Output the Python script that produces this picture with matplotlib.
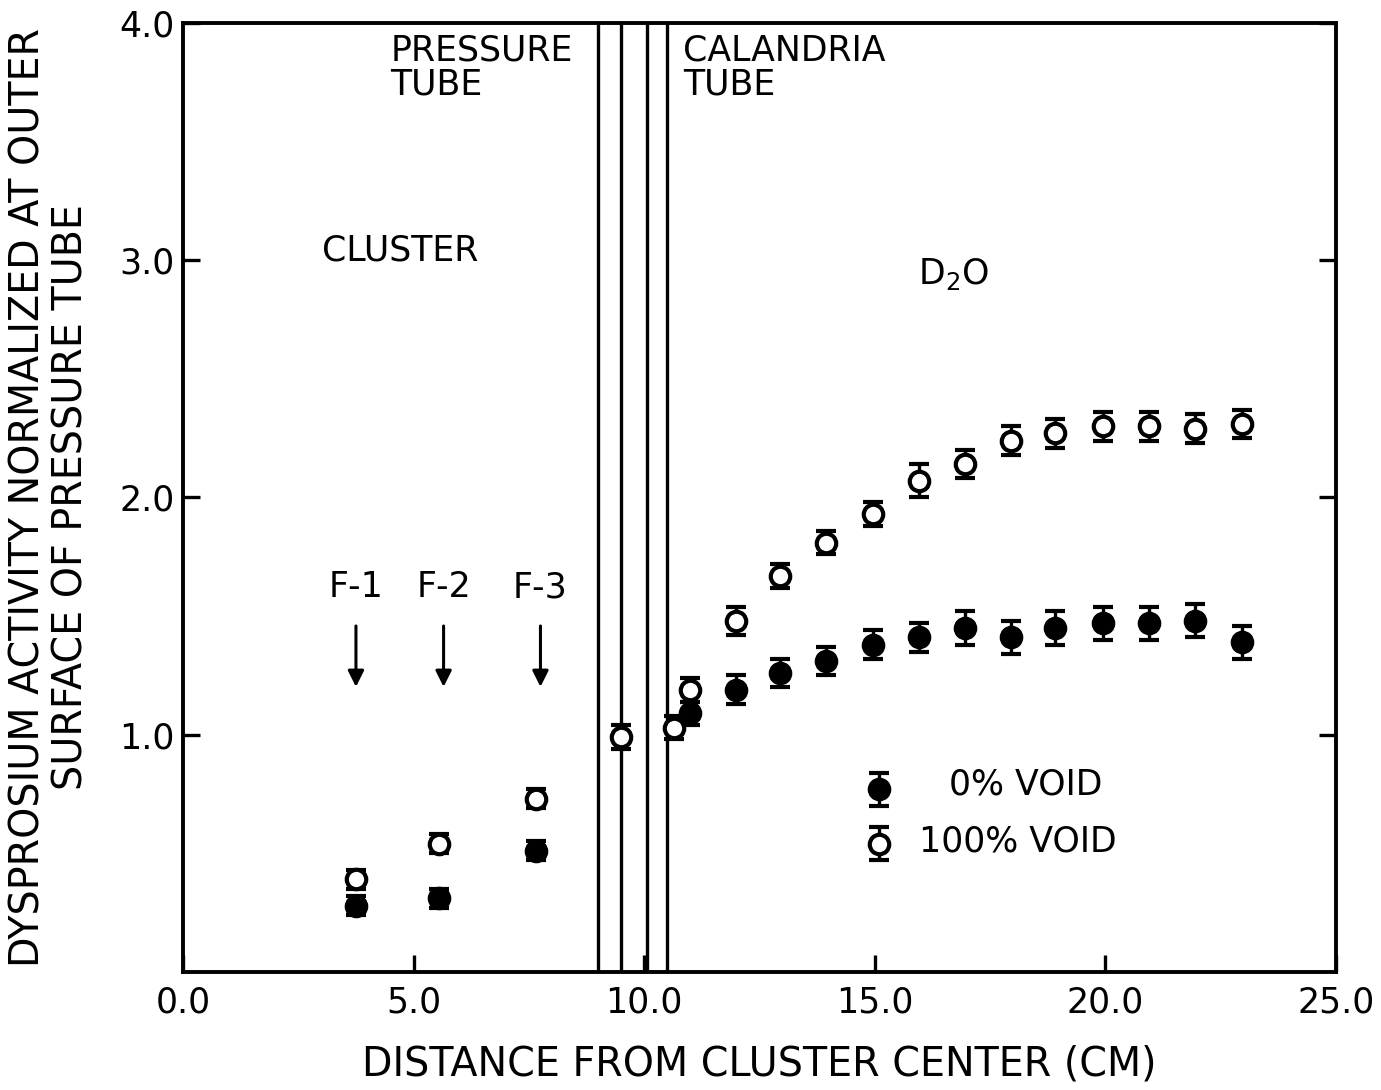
import matplotlib

matplotlib.use("Agg")
import matplotlib.pyplot as plt  # noqa: E402
import numpy as np  # noqa: E402

# 0% void (filled circles)
x_void0 = [3.75, 5.55, 7.65, 11.0, 12.0, 12.95, 13.95, 14.95, 15.95, 16.95, 17.95, 18.9, 19.95, 20.95, 21.95, 22.95]
y_void0 = [0.28, 0.31, 0.51, 1.09, 1.19, 1.26, 1.31, 1.38, 1.41, 1.45, 1.41, 1.45, 1.47, 1.47, 1.48, 1.39]
e_void0 = [0.04, 0.04, 0.04, 0.05, 0.06, 0.06, 0.06, 0.06, 0.06, 0.07, 0.07, 0.07, 0.07, 0.07, 0.07, 0.07]

# 100% void (open circles)
x_void100 = [3.75, 5.55, 7.65, 9.5, 10.65, 11.0, 12.0, 12.95, 13.95, 14.95, 15.95, 16.95, 17.95, 18.9, 19.95, 20.95, 21.95, 22.95]
y_void100 = [0.39, 0.54, 0.73, 0.99, 1.03, 1.19, 1.48, 1.67, 1.81, 1.93, 2.07, 2.14, 2.24, 2.27, 2.30, 2.30, 2.29, 2.31]
e_void100 = [0.04, 0.04, 0.04, 0.05, 0.05, 0.05, 0.06, 0.05, 0.05, 0.05, 0.07, 0.06, 0.06, 0.06, 0.06, 0.06, 0.06, 0.06]

# tube wall boundaries (cm)
walls = [9.0, 9.5, 10.05, 10.5]

# fuel ring arrows
fuel_labels = ["F-1", "F-2", "F-3"]
fuel_x = [3.75, 5.65, 7.75]

plt.rcParams["font.family"] = ["DejaVu Sans"]

fig = plt.figure(figsize=(13.81, 10.90), dpi=100)
ax = fig.add_axes([0.1325, 0.1083, 0.835, 0.8706])

for w in walls:
    ax.axvline(w, color="black", lw=2.4)

common = dict(fmt="o", color="black", ms=14, capsize=7, elinewidth=2.4,
              capthick=3, mew=3, zorder=3)
ax.errorbar(x_void0, y_void0, yerr=e_void0, mfc="black", **common)
ax.errorbar(x_void100, y_void100, yerr=e_void100, mfc="white", **common)

ax.set_xlim(0, 25)
ax.set_ylim(0, 4.0)
ax.set_xticks([0, 5, 10, 15, 20, 25])
ax.set_xticklabels(["0.0", "5.0", "10.0", "15.0", "20.0", "25.0"])
ax.set_yticks([1, 2, 3, 4])
ax.set_yticklabels(["1.0", "2.0", "3.0", "4.0"])
ax.tick_params(direction="in", length=12, width=2.4, labelsize=25, pad=10,
               right=True)
ax.tick_params(axis="y", pad=6)
for s in ax.spines.values():
    s.set_linewidth(2.8)

ax.set_xlabel("DISTANCE FROM CLUSTER CENTER (CM)", fontsize=28.5, labelpad=18)
ax.set_ylabel("DYSPROSIUM ACTIVITY NORMALIZED AT OUTER\nSURFACE OF PRESSURE TUBE",
              fontsize=28.5, labelpad=20, linespacing=1.1)

tkw = dict(fontsize=25, color="black")
ax.text(4.5, 3.955, "PRESSURE\nTUBE", ha="left", va="top", linespacing=1.0, **tkw)
ax.text(10.85, 3.955, "CALANDRIA\nTUBE", ha="left", va="top", linespacing=1.0, **tkw)
ax.text(4.7, 3.04, "CLUSTER", ha="center", va="center", **tkw)
ax.text(16.7, 2.94, "D$_2$O", ha="center", va="center", **tkw)

for lab, fx in zip(fuel_labels, fuel_x):
    ax.text(fx, 1.55, lab, ha="center", va="bottom", **tkw)
    ax.annotate("", xy=(fx, 1.19), xytext=(fx, 1.47),
                arrowprops=dict(arrowstyle="-|>", color="black", lw=2.2,
                                mutation_scale=24))

# legend drawn by hand, as in the original figure
ax.errorbar([15.1], [0.77], yerr=[0.07], mfc="black", **common)
ax.errorbar([15.1], [0.54], yerr=[0.07], mfc="white", **common)
ax.text(16.6, 0.79, "0% VOID", ha="left", va="center", **tkw)
ax.text(15.95, 0.55, "100% VOID", ha="left", va="center", **tkw)

fig.savefig("out.png", dpi=100)
